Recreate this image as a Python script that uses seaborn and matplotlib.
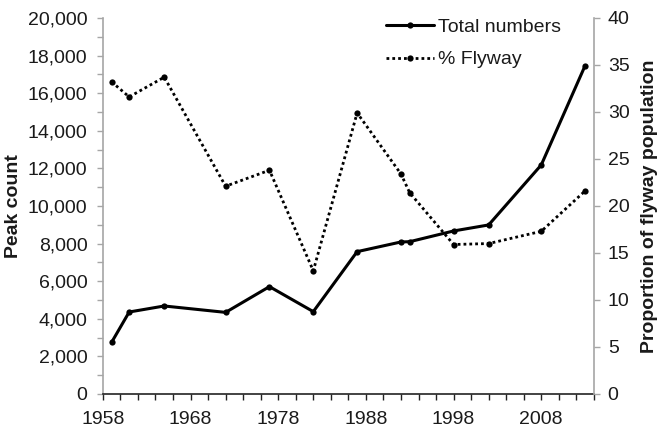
import matplotlib
matplotlib.use("Agg")
import matplotlib.pyplot as plt
from matplotlib import font_manager
from matplotlib.ticker import MultipleLocator, FixedLocator, FuncFormatter
import seaborn as sns

# Survey years and counts
years = [1959, 1961, 1965, 1972, 1977, 1982, 1987, 1992, 1993, 1998, 2002, 2008, 2013]
total_numbers = [2750, 4360, 4680, 4340, 5710, 4380, 7570, 8085, 8100, 8670, 8990, 12180, 17460]
pct_flyway = [33.2, 31.6, 33.7, 22.1, 23.8, 13.1, 29.9, 23.4, 21.4, 15.9, 16.0, 17.3, 21.6]

year_ticks = [1958, 1968, 1978, 1988, 1998, 2008]
series_labels = ["Total numbers", "% Flyway"]
left_label = "Peak count"
right_label = "Proportion of flyway population"

sns.set_theme(style="white")

available = {f.name for f in font_manager.fontManager.ttflist}
family = next((n for n in ["Liberation Sans Narrow", "Arial Narrow", "Liberation Sans", "Arial"]
               if n in available), "DejaVu Sans")
plt.rcParams["font.family"] = [family, "DejaVu Sans"]

fs = 14
text_color = "#1a1a1a"
axis_gray = "#a6a6a6"

fig = plt.figure(figsize=(6.68, 4.32), dpi=100)
ax = fig.add_axes([0.154, 0.088, 0.735, 0.8705])
ax2 = ax.twinx()

sns.lineplot(x=years, y=total_numbers, ax=ax, color="black", linewidth=2.2,
             marker="o", markersize=4.5, markeredgewidth=0, label=series_labels[0],
             legend=False)
sns.lineplot(x=years, y=pct_flyway, ax=ax2, color="black", linewidth=2.0,
             linestyle=(0, (1.0, 1.1)), marker="o", markersize=4.5, markeredgewidth=0,
             label=series_labels[1], legend=False)

ax.set_xlim(1958, 2014)
ax.set_ylim(0, 20000)
ax2.set_ylim(0, 40)

ax.xaxis.set_major_locator(FixedLocator(year_ticks))
ax.xaxis.set_minor_locator(MultipleLocator(2))
ax.yaxis.set_major_locator(MultipleLocator(2000))
ax.yaxis.set_minor_locator(MultipleLocator(1000))
ax.yaxis.set_major_formatter(FuncFormatter(lambda v, p: f"{int(v):,}"))
ax2.yaxis.set_major_locator(MultipleLocator(5))

for a in (ax, ax2):
    a.spines["top"].set_visible(False)
    a.grid(False)
    a.set_facecolor("none")

ax.spines["left"].set_color(axis_gray)
ax.spines["left"].set_linewidth(1.2)
ax.spines["right"].set_visible(False)
ax.spines["bottom"].set_color("#222222")
ax.spines["bottom"].set_linewidth(1.2)
ax2.spines["left"].set_visible(False)
ax2.spines["bottom"].set_visible(False)
ax2.spines["right"].set_color(axis_gray)
ax2.spines["right"].set_linewidth(1.2)

ax.tick_params(axis="x", which="both", direction="out", length=4, width=1,
               color="#222222", bottom=True, labelsize=fs, labelcolor=text_color, pad=8)
ax.tick_params(axis="y", which="both", direction="out", length=4, width=1,
               color=axis_gray, left=True, labelsize=fs, labelcolor=text_color, pad=7)
ax2.tick_params(axis="y", which="both", direction="out", length=4, width=1,
                color=axis_gray, right=True, labelsize=fs, labelcolor=text_color, pad=6)

ax.set_xlabel("")
ax.set_ylabel(left_label, fontsize=fs, fontweight="bold", color=text_color, labelpad=4)
ax2.set_ylabel(right_label, fontsize=fs, fontweight="bold", color=text_color, labelpad=8)

h1, l1 = ax.get_legend_handles_labels()
h2, l2 = ax2.get_legend_handles_labels()
leg = ax2.legend(h1 + h2, l1 + l2, loc="upper left", bbox_to_anchor=(0.54, 1.045),
                 frameon=False, fontsize=fs, handlelength=2.5, handletextpad=0.2,
                 labelspacing=0.75, numpoints=1)
for t in leg.get_texts():
    t.set_color(text_color)

fig.savefig("out.png", dpi=100, facecolor="white")
